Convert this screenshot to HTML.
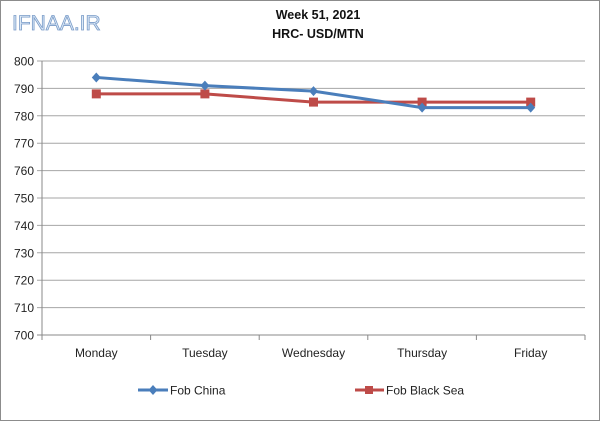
<!DOCTYPE html>
<html><head><meta charset="utf-8"><style>
body{margin:0;background:#fff}
svg{display:block;font-family:"Liberation Sans",sans-serif}
</style></head><body>
<svg width="600" height="421" viewBox="0 0 600 421">
<rect x="0.5" y="0.5" width="599" height="420" fill="#fff" stroke="#8c8c8c"/>
<text x="12" y="30" font-size="21" fill="#dbe8f7" stroke="#7a9cc8" stroke-width="0.8">IFNAA.IR</text>
<text x="318" y="19" text-anchor="middle" font-size="12.5" font-weight="bold" fill="#111">Week 51, 2021</text>
<text x="318" y="38" text-anchor="middle" font-size="12.5" font-weight="bold" fill="#111">HRC- USD/MTN</text>
<g id="grid"></g><g id="axes"></g><g id="series"></g>
<g>
<g>
<line x1="138" y1="390" x2="168" y2="390" stroke="#4a7ebb" stroke-width="3"/>
<path d="M153 385 L157.5 390 L153 395 L148.5 390Z" fill="#4a7ebb"/>
<text x="170" y="394.5" font-size="12" fill="#222">Fob China</text></g>
<g>
<line x1="355" y1="390" x2="384" y2="390" stroke="#be4b48" stroke-width="3"/>
<rect x="365" y="386" width="8" height="8" fill="#be4b48"/>
<text x="386" y="394.5" font-size="12" fill="#222">Fob Black Sea</text></g>
</g>
</svg>
<script>
const categories=["Monday","Tuesday","Wednesday","Thursday","Friday"];
const fobChina=[794,791,789,783,783];
const fobBlackSea=[788,788,785,785,785];
const yTicks=[700,710,720,730,740,750,760,770,780,790,800];
const NS="http://www.w3.org/2000/svg";
const L=42,R=585,T=61,B=335,yMin=700,yMax=800;
const bw=(R-L)/categories.length;
const x=i=>L+bw*(i+0.5);
const y=v=>B-(v-yMin)/(yMax-yMin)*(B-T);
function mk(tag,at,p){const e=document.createElementNS(NS,tag);for(const k in at)e.setAttribute(k,at[k]);p.appendChild(e);return e;}
const grid=document.getElementById('grid'),axes=document.getElementById('axes'),ser=document.getElementById('series');
yTicks.forEach(t=>{
 const g=mk('line',{x1:L-5,x2:R,y1:y(t),y2:y(t),stroke:t===yMin?'#888':'#a6a6a6','stroke-width':1},grid);
 
 
 const lb=mk('text',{x:L-8,y:y(t)+4.5,'text-anchor':'end','font-size':12,fill:'#222'},axes);
 lb.textContent=t;
 
 
});
const ya=mk('line',{x1:L,x2:L,y1:T,y2:B,stroke:'#888'},axes);


for(let i=0;i<=categories.length;i++){mk('line',{x1:L+bw*i,x2:L+bw*i,y1:B,y2:B+5,stroke:'#888'},axes);}
categories.forEach((c,i)=>{
 const t=mk('text',{x:x(i),y:357,'text-anchor':'middle','font-size':12,fill:'#222'},axes);
 t.textContent=c;
 
 
});
function line(data,color,name,marker){
 const pl=mk('polyline',{points:data.map((v,i)=>x(i)+','+y(v)).join(' '),fill:'none',stroke:color,'stroke-width':3,'stroke-linejoin':'round'},ser);
 
 
 data.forEach((v,i)=>{
  let m;
  if(marker==='d')m=mk('path',{d:`M${x(i)} ${y(v)-5}L${x(i)+4.5} ${y(v)}L${x(i)} ${y(v)+5}L${x(i)-4.5} ${y(v)}Z`,fill:color},ser);
  else m=mk('rect',{x:x(i)-4.5,y:y(v)-4.5,width:9,height:9,fill:color},ser);
  
  
 });
}
line(fobBlackSea,'#be4b48','fob-black-sea','s');
line(fobChina,'#4a7ebb','fob-china','d');
</script>
</body></html>
